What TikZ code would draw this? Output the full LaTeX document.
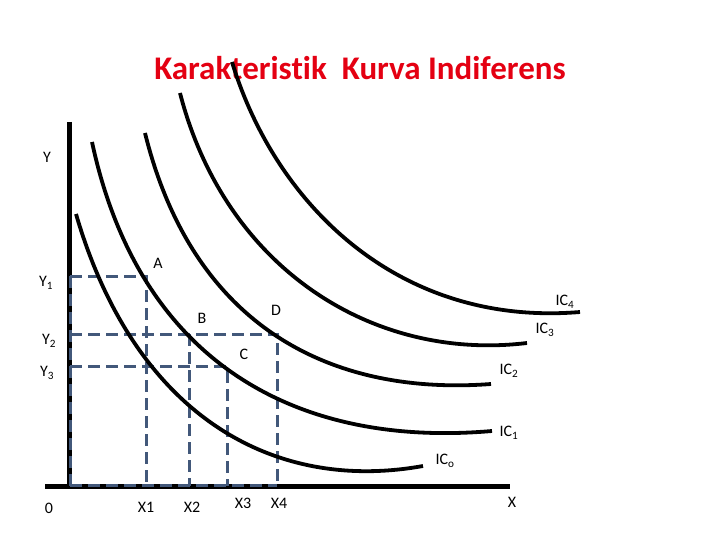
\documentclass[tikz,border=0pt]{standalone}
\usepackage{fontspec}
\setmainfont{Carlito}[Ligatures=NoCommon]
\definecolor{titlered}{RGB}{228,0,18}
\definecolor{guideblue}{RGB}{66,88,122}
\begin{document}
\begin{tikzpicture}[x=1pt,y=-1pt,
  axis/.style={line width=5pt},
  icurve/.style={line width=3.8pt},
  guide/.style={guideblue, line width=3pt, dash pattern=on 12pt off 6pt},
  lbl/.style={font=\fontsize{16}{18}\selectfont, inner sep=0pt},
  ttl/.style={font=\fontsize{33}{38}\selectfont\bfseries, text=titlered, inner sep=0pt}]
\useasboundingbox (0,0) rectangle (720,540);
% title
\node[ttl] (title) at (360,68) {Karakteristik\ \ Kurva Indiferens};
% axes
\draw[axis] (69,122) -- (69,488);
\draw[axis] (45,486) -- (510,486);
% guides
\draw[guide] (70,276) -- (146,276) -- (146,486);
\draw[guide] (70,334) -- (277,334) -- (277,486);
\draw[guide] (189,334) -- (189,486);
\draw[guide] (70,366) -- (227,366) -- (227,486);
\draw[guide] (70,276) -- (70,486);
\draw[guide] (70,485) -- (277,485);
% curves
\draw[icurve] (232,62) .. controls (276,206) and (400,327) .. (580,312);
\draw[icurve] (180,93) .. controls (225,267.6) and (372,361.6) .. (527,343);
\draw[icurve] (145,133) .. controls (193,327) and (331,396) .. (491,384);
\draw[icurve] (92,142) .. controls (140.3,367.4) and (302,447.5) .. (492,431);
\draw[icurve] (76,214) .. controls (134.8,415.6) and (273,493) .. (423,466);
% labels
\node[lbl] (ly) at (47,157) {Y};
\node[lbl] (ly1) at (46,283) {Y\textsubscript{1}};
\node[lbl] (ly2) at (49,341) {Y\textsubscript{2}};
\node[lbl] (ly3) at (47,373) {Y\textsubscript{3}};
\node[lbl] (l0) at (49,508) {0};
\node[lbl] (lx1) at (146,507) {X1};
\node[lbl] (lx2) at (192,507) {X2};
\node[lbl] (lx3) at (243,503) {X3};
\node[lbl] (lx4) at (279,503) {X4};
\node[lbl] (lx) at (512,502) {X};
\node[lbl] (pa) at (158,263) {A};
\node[lbl] (pb) at (202,318) {B};
\node[lbl] (pc) at (244,354) {C};
\node[lbl] (pd) at (276,310) {D};
\node[lbl] (ic4) at (565,302) {IC\textsubscript{4}};
\node[lbl] (ic3) at (545,330) {IC\textsubscript{3}};
\node[lbl] (ic2) at (509,371) {IC\textsubscript{2}};
\node[lbl] (ic1) at (509,433) {IC\textsubscript{1}};
\node[lbl] (ic0) at (445,461) {IC\textsubscript{o}};
\end{tikzpicture}
\end{document}
